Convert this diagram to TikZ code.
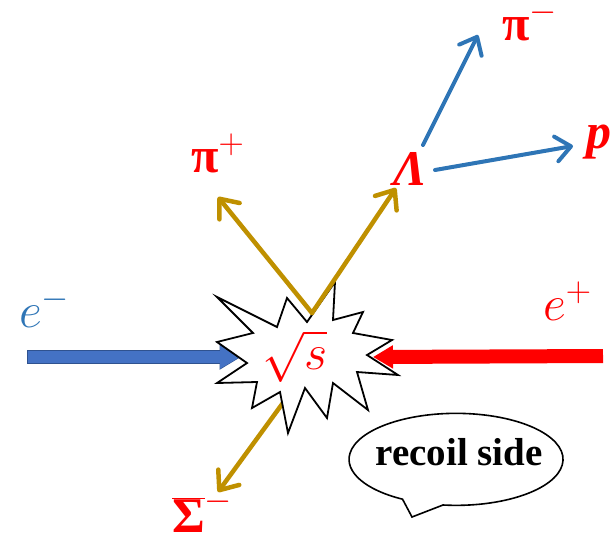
\RequirePackage{fix-cm}
\documentclass[tikz,border=0pt]{standalone}
\usepackage{fontspec}
\setmainfont{Liberation Serif}
\usepackage{tikz}
\usetikzlibrary{arrows.meta, positioning}
\definecolor{gold}{HTML}{BF9000}
\definecolor{decayblue}{HTML}{2E75B6}
\definecolor{beamblue}{HTML}{4472C4}
\definecolor{beamedge}{HTML}{2F528F}
\definecolor{beamred}{HTML}{FF0000}

\begin{document}
\begin{tikzpicture}[
  x=1pt, y=-1pt,
  particle/.style={text=red, font=\fontsize{50}{58}\selectfont, inner sep=0pt, anchor=base west},
  prod/.style={-{Straight Barb[round, length=16pt, width=26pt]}, line width=4.5pt, color=gold, line cap=round},
  decay/.style={-{Straight Barb[round, length=15pt, width=25pt]}, line width=4pt, color=decayblue, line cap=round},
  beam/.style={-{Triangle[length=20pt, width=22pt]}, line width=12pt}
]
  \useasboundingbox (0,0) rectangle (611,539);

  % beams
  \coordinate (eminusTail) at (27,357);
  \coordinate (eplusTail) at (603,356);
  \coordinate (westIn) at (241,357);
  \coordinate (eastIn) at (373,357);
  \draw[-{Triangle[length=21.5pt, width=24pt]}, line width=13.5pt, color=beamedge] (eminusTail) -- (westIn);
  \draw[beam, color=beamblue, shorten <=0.75pt, shorten >=0.9pt] (eminusTail) -- (westIn);
  \draw[beam, color=beamred, line width=14pt] (eplusTail) -- (eastIn);

  % recoil arrow, partly under the burst
  \coordinate (sigmaStart) at (288,396);
  \coordinate (sigmaTip) at (218,492);
  \draw[prod] (sigmaStart) -- (sigmaTip);

  % collision point
  \draw[fill=white, line width=1.8pt, line join=miter]
    (217,297) -- (277,327) -- (287,298) -- (307,322) -- (335,282) -- (333,320)
    -- (363,312) -- (353,333) -- (392,340) -- (367,355) -- (398,375) -- (357,372)
    -- (368,410) -- (333,383) -- (327,418) -- (305,388) -- (288,433) -- (280,392)
    -- (252,408) -- (257,382) -- (217,383) -- (247,363) -- (217,342) -- (253,333)
    -- cycle;
  \node[particle, anchor=center] (sqrts) at (295,356) {$\sqrt{s}$};

  % labels
  \node[particle, text=decayblue] (eminus) at (19,327) {$e^{-}$};
  \node[particle] (eplus) at (543,320) {$e^{+}$};
  \node[particle] (piplus) at (191,172) {\textbf{π}$^{+}$};
  \node[particle] (lambda) at (393,185) {\textbf{\textit{Λ}}};
  \node[particle] (piminus) at (502,40) {\textbf{π}$^{-}$};
  \node[particle] (proton) at (586,148) {\textbf{\textit{p}}};
  \node[particle] (sigmabar) at (172,532) {$\overline{\mbox{\bfseries Σ}}^{-}$};

  % production
  \coordinate (vertex) at (312,313);
  \coordinate (piplusTip) at (218,197);
  \coordinate (lambdaTip) at (396,188);
  \draw[prod] (vertex) -- (piplusTip);
  \draw[prod] (vertex) -- (lambdaTip);

  % lambda decay
  \coordinate (piminusStart) at (423,145);
  \coordinate (piminusTip) at (478,35);
  \coordinate (protonStart) at (435,170);
  \coordinate (protonTip) at (573,146);
  \draw[decay] (piminusStart) -- (piminusTip);
  \draw[decay] (protonStart) -- (protonTip);

  % speech bubble
  \coordinate (bubbleTip) at (412,517);
  \draw[line width=1.6pt, line join=miter] (443,505) arc[start angle=97, end angle=-240, x radius=107, y radius=46] -- (bubbleTip) -- cycle;
  \node[font=\fontsize{39}{44}\selectfont\bfseries, inner sep=0pt] (recoil) at (459,452) {recoil side};
\end{tikzpicture}
\end{document}
